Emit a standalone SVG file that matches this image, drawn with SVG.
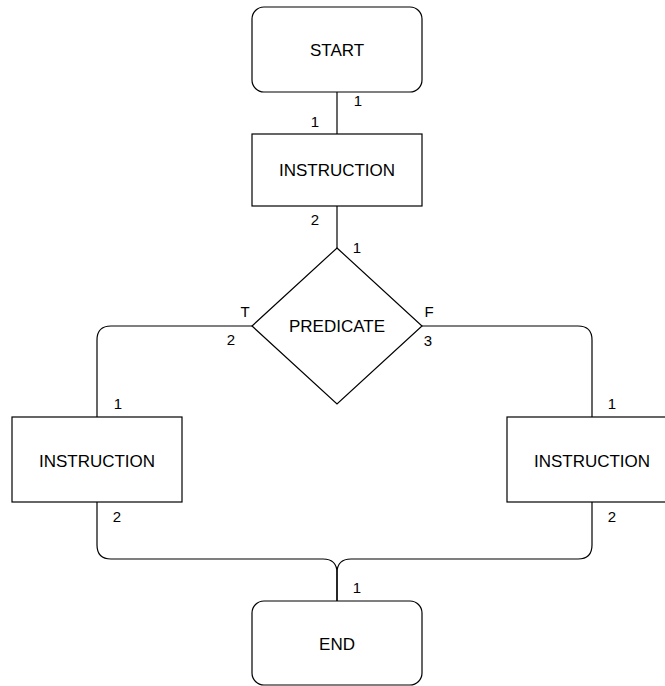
<svg xmlns="http://www.w3.org/2000/svg" width="665" height="686" viewBox="0 0 665 686">
  <style>
    .shape { fill: #ffffff; stroke: #000000; stroke-width: 1.2; }
    .edge { fill: none; stroke: #000000; stroke-width: 1.2; }
    .label { font-family: "Liberation Sans", Arial, Helvetica, sans-serif; font-size: 17px; fill: #000000; text-anchor: middle; }
    .port { font-family: "Liberation Sans", Arial, Helvetica, sans-serif; font-size: 15px; fill: #000000; text-anchor: middle; }
  </style>
  <rect width="665" height="686" fill="#ffffff"/>

  <!-- connectors -->
  <g id="connectors">
    <path class="edge" d="M337,92 V134"/>
    <path class="edge" d="M337,206 V248"/>
    <path class="edge" d="M252,326 H111 Q97,326 97,340 V417"/>
    <path class="edge" d="M422,326 H578 Q592,326 592,340 V417"/>
    <path class="edge" d="M97,502 V545 Q97,559 111,559 H323 Q337,559 337,573 V601"/>
    <path class="edge" d="M592,502 V545 Q592,559 578,559 H351 Q337,559 337,573 V601"/>
    <!-- port numbers -->
    <text class="port" x="358" y="106">1</text>
    <text class="port" x="315" y="127">1</text>
    <text class="port" x="315" y="225">2</text>
    <text class="port" x="357" y="253">1</text>
    <text class="port" x="245" y="317">T</text>
    <text class="port" x="231" y="345">2</text>
    <text class="port" x="429" y="317">F</text>
    <text class="port" x="428" y="346">3</text>
    <text class="port" x="118" y="409">1</text>
    <text class="port" x="612" y="409">1</text>
    <text class="port" x="117" y="522">2</text>
    <text class="port" x="612" y="522">2</text>
    <text class="port" x="357" y="593">1</text>
  </g>

  <g id="start">
    <rect class="shape" x="252" y="7" width="170" height="85" rx="12" ry="12"/>
    <text class="label" x="337" y="56">START</text>
  </g>

  <g id="instruction-1">
    <rect class="shape" x="252" y="134" width="170" height="72"/>
    <text class="label" x="337" y="176">INSTRUCTION</text>
  </g>

  <g id="predicate">
    <polygon class="shape" points="337,248 422,326 337,404 252,326"/>
    <text class="label" x="337" y="332">PREDICATE</text>
  </g>

  <g id="instruction-true">
    <rect class="shape" x="12" y="417" width="170" height="85"/>
    <text class="label" x="97" y="467">INSTRUCTION</text>
  </g>

  <g id="instruction-false">
    <rect class="shape" x="507" y="417" width="170" height="85"/>
    <text class="label" x="592" y="467">INSTRUCTION</text>
  </g>

  <g id="end">
    <rect class="shape" x="252" y="601" width="170" height="84" rx="12" ry="12"/>
    <text class="label" x="337" y="650">END</text>
  </g>
</svg>
